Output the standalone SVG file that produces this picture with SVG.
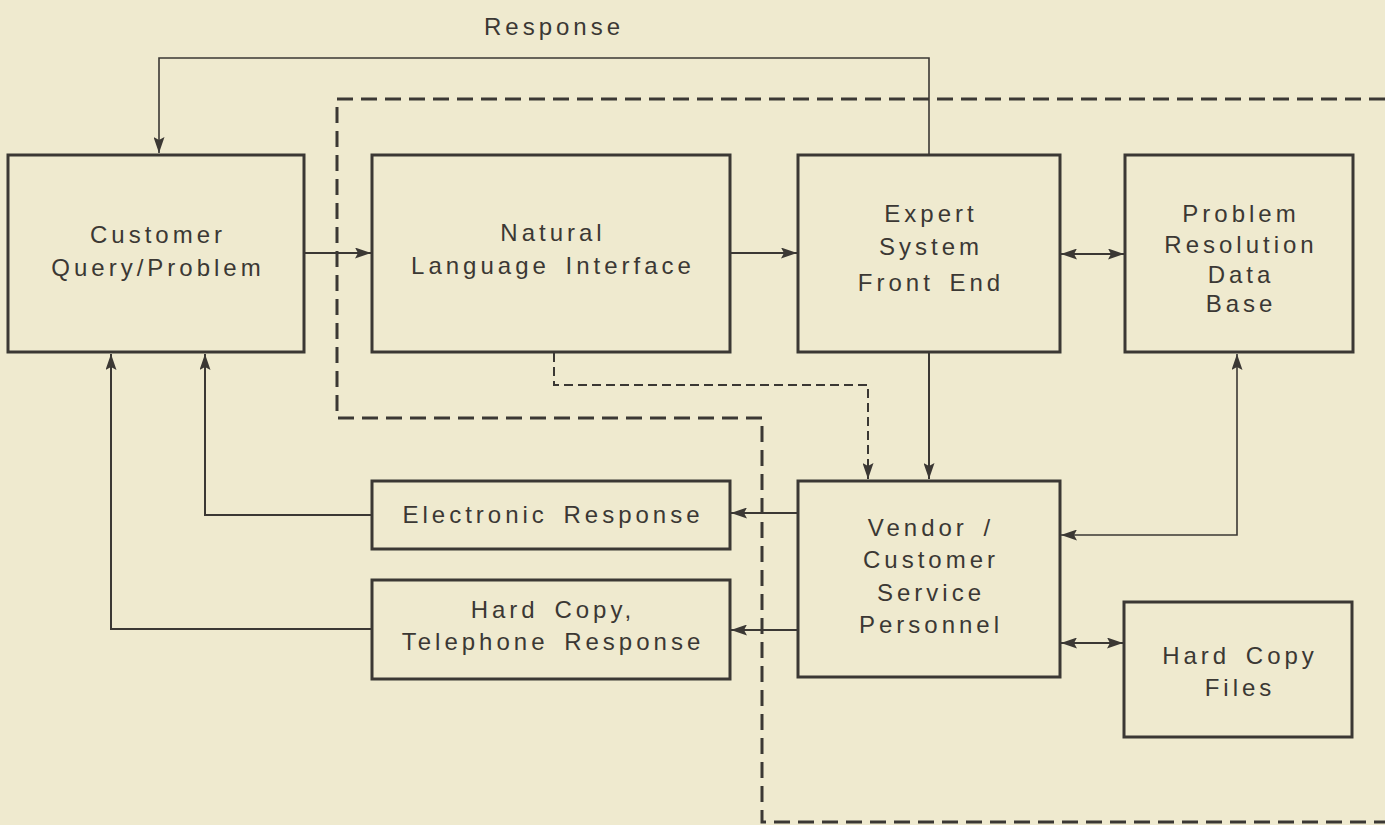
<svg xmlns="http://www.w3.org/2000/svg" width="1385" height="825" viewBox="0 0 1385 825">
  <style>
    .box { fill: none; stroke: #3b3834; stroke-width: 3; }
    .lbl { font-family: "Liberation Sans", Arial, sans-serif; font-size: 24px; fill: #3b3834; letter-spacing: 4px; word-spacing: 5px; text-anchor: middle; }
    .wire { fill: none; stroke: #3b3834; stroke-width: 2; }
    .thin { fill: none; stroke: #3b3834; stroke-width: 1.6; }
    .dash { fill: none; stroke: #3b3834; stroke-width: 2; stroke-dasharray: 9 5; }
    .bound { fill: none; stroke: #3b3834; stroke-width: 3; stroke-dasharray: 16 8; }
  </style>
  <defs>
    <marker id="ah" viewBox="0 0 16 11" refX="16" refY="5.5" markerWidth="16" markerHeight="11" markerUnits="userSpaceOnUse" orient="auto-start-reverse">
      <path d="M0,0 L16,5.5 L0,11 L3,5.5 z" fill="#3b3834"/>
    </marker>
  </defs>

  <rect width="1385" height="825" fill="#efeacf"/>

  <!-- system boundary -->
  <g id="boundary">
    <path class="bound" d="M1385,99 H337 V418 H762 V822 H1385"/>
  </g>

  <text class="lbl" x="554" y="35">Response</text>

  <g id="customer">
    <rect class="box" x="8" y="155" width="296" height="197"/>
    <text class="lbl" x="158" y="243">Customer</text>
    <text class="lbl" x="158" y="276">Query/Problem</text>
  </g>

  <g id="nli">
    <rect class="box" x="372" y="155" width="358" height="197"/>
    <text class="lbl" x="553" y="241">Natural</text>
    <text class="lbl" x="553" y="274">Language Interface</text>
  </g>

  <g id="expert">
    <rect class="box" x="798" y="155" width="262" height="197"/>
    <text class="lbl" x="931" y="222">Expert</text>
    <text class="lbl" x="931" y="255">System</text>
    <text class="lbl" x="931" y="291">Front End</text>
  </g>

  <g id="prdb">
    <rect class="box" x="1125" y="155" width="228" height="197"/>
    <text class="lbl" x="1241" y="222">Problem</text>
    <text class="lbl" x="1241" y="253">Resolution</text>
    <text class="lbl" x="1241" y="283">Data</text>
    <text class="lbl" x="1241" y="312">Base</text>
  </g>

  <g id="electronic">
    <rect class="box" x="372" y="481" width="358" height="68"/>
    <text class="lbl" x="553" y="523">Electronic Response</text>
  </g>

  <g id="hardcopy-phone">
    <rect class="box" x="372" y="580" width="358" height="99"/>
    <text class="lbl" x="553" y="618">Hard Copy,</text>
    <text class="lbl" x="553" y="650">Telephone Response</text>
  </g>

  <g id="vendor">
    <rect class="box" x="798" y="481" width="262" height="196"/>
    <text class="lbl" x="931" y="536">Vendor /</text>
    <text class="lbl" x="931" y="568">Customer</text>
    <text class="lbl" x="931" y="601">Service</text>
    <text class="lbl" x="931" y="633">Personnel</text>
  </g>

  <g id="files">
    <rect class="box" x="1124" y="602" width="228" height="135"/>
    <text class="lbl" x="1240" y="664">Hard Copy</text>
    <text class="lbl" x="1240" y="696">Files</text>
  </g>

  <g id="connectors">
    <path class="thin" d="M929,155 V58 H159 V153" marker-end="url(#ah)"/>
    <path class="wire" d="M304,253 H371" marker-end="url(#ah)"/>
    <path class="wire" d="M730,253 H797" marker-end="url(#ah)"/>
    <path class="wire" d="M1061,254 H1124" marker-start="url(#ah)" marker-end="url(#ah)"/>
    <path class="wire" d="M929,352 V479" marker-end="url(#ah)"/>
    <path class="dash" d="M554,353 V385 H868 V479" marker-end="url(#ah)"/>
    <path class="thin" d="M1237,354 V535 H1061" marker-start="url(#ah)" marker-end="url(#ah)"/>
    <path class="wire" d="M798,513 H731" marker-end="url(#ah)"/>
    <path class="wire" d="M798,630 H731" marker-end="url(#ah)"/>
    <path class="wire" d="M372,515 H205 V354" marker-end="url(#ah)"/>
    <path class="wire" d="M372,629 H111 V354" marker-end="url(#ah)"/>
    <path class="wire" d="M1061,643 H1123" marker-start="url(#ah)" marker-end="url(#ah)"/>
  </g>
</svg>
